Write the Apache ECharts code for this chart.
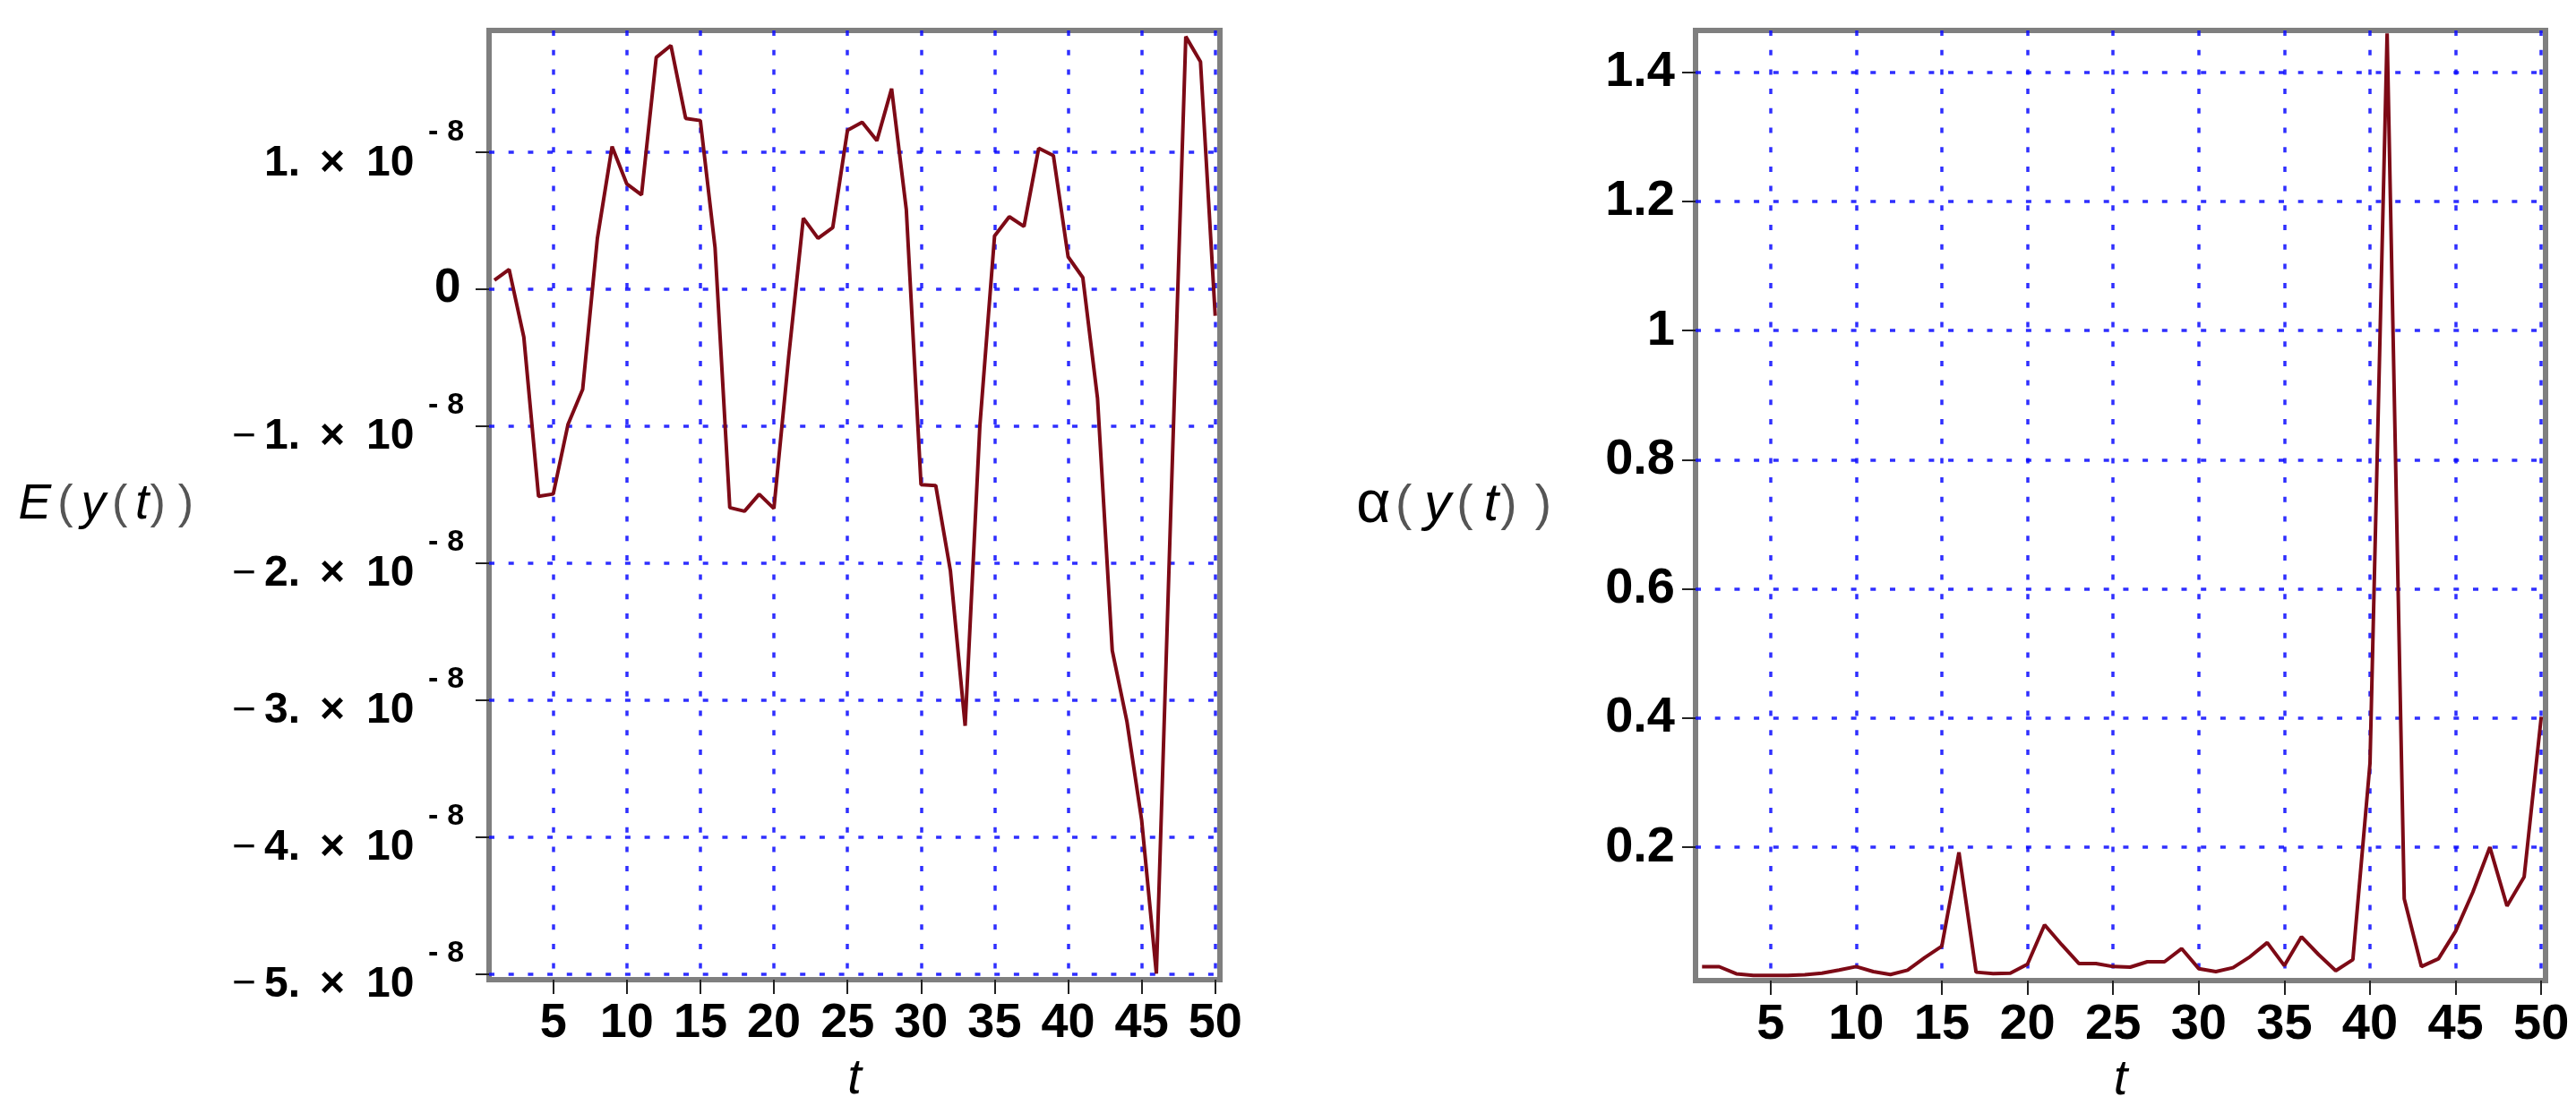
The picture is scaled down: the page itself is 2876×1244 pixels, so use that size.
<!DOCTYPE html>
<html>
<head>
<meta charset="utf-8">
<script src="https://cdn.jsdelivr.net/npm/echarts@6/dist/echarts.min.js"></script>
<style>
html,body{margin:0;padding:0;background:#fff;}
#chart{width:2876px;height:1244px;}
</style>
</head>
<body>
<div id="chart"></div>
<script>
// time steps
const tValues = [1,2,3,4,5,6,7,8,9,10,11,12,13,14,15,16,17,18,19,20,21,22,23,24,25,26,27,28,29,30,31,32,33,34,35,36,37,38,39,40,41,42,43,44,45,46,47,48,49,50];
// E(y(t)) in units of 1e-8
const eValues = [0.065,0.143,-0.352,-1.514,-1.497,-0.99,-0.733,0.37,1.04,0.767,0.687,1.691,1.778,1.246,1.23,0.30,-1.597,-1.623,-1.499,-1.603,-0.5,0.517,0.37,0.448,1.159,1.217,1.083,1.463,0.58,-1.429,-1.435,-2.06,-3.19,-1.0,0.387,0.528,0.457,1.028,0.974,0.235,0.083,-0.8,-2.64,-3.16,-3.88,-5.0,-1.55,1.843,1.659,-0.196];
// alpha(y(t))
const alphaValues = [0.015,0.015,0.004,0.0015,0.0015,0.0015,0.0025,0.005,0.0097,0.0152,0.0074,0.0028,0.0097,0.029,0.0467,0.192,0.0065,0.0042,0.005,0.0189,0.0799,0.049,0.0199,0.0199,0.0152,0.0143,0.0226,0.0226,0.043,0.012,0.0074,0.0134,0.0305,0.0522,0.0166,0.0614,0.0337,0.0088,0.0259,0.33,1.46,0.12,0.0152,0.0273,0.07,0.13,0.2,0.109,0.154,0.402];
// tick labels
const tTicks = [5,10,15,20,25,30,35,40,45,50];
const eTicks = [-5,-4,-3,-2,-1,0,1];
const eBase = '10';
const eExponent = ['-', '8'];
const alphaTicks = [0.2,0.4,0.6,0.8,1,1.2,1.4];

const FONT = "'Liberation Sans', Arial, Helvetica, sans-serif";
const LINE = '#7d0a16';
const GRIDC = 'rgba(10,10,255,0.85)';
const FRAME = '#7f7f7f';
const DASH = [6, 15.7];

const chart = echarts.init(document.getElementById('chart'), null, {renderer: 'canvas'});

function xAxisFor(gi, min, max, fs) {
  return {
    type: 'value', gridIndex: gi, min: min, max: max, position: 'bottom',
    minInterval: 5, maxInterval: 5,
    name: '{t|t}', nameLocation: 'middle', nameGap: 83,
    nameTextStyle: { rich: { t: { fontFamily: FONT, fontStyle: 'italic', fontSize: 56, color: '#000' } } },
    axisLine: { show: false, onZero: false },
    axisTick: { show: true, customValues: tTicks, length: 16, lineStyle: { color: '#222', width: 2 } },
    axisLabel: { customValues: tTicks, margin: 22, fontFamily: FONT, fontWeight: 'bold', fontSize: fs, color: '#000' },
    splitLine: { show: true, lineStyle: { color: GRIDC, width: 3.5, type: DASH } }
  };
}

function sp(fs) { return { fontFamily: FONT, fontSize: fs, lineHeight: 10 }; }
function gap(w) { return { fontFamily: FONT, fontSize: 10, lineHeight: 10, width: w }; }

const nameRichL = {
  E: { fontFamily: FONT, fontStyle: 'italic', fontSize: 55, color: '#000' },
  p: { fontFamily: FONT, fontSize: 52, color: '#555' },
  v: { fontFamily: FONT, fontStyle: 'italic', fontSize: 55, color: '#000' },
  a1: sp(25), a2: sp(32), a3: sp(25), a4: sp(32), a5: sp(4), a6: sp(50)
};
const nameRichR = {
  E: { fontFamily: FONT, fontSize: 66, color: '#000' },
  p: { fontFamily: FONT, fontSize: 55, color: '#555' },
  v: { fontFamily: FONT, fontStyle: 'italic', fontSize: 60, color: '#000' },
  a1: sp(20), a2: sp(50), a3: sp(22), a4: sp(43), a5: sp(8), a6: sp(72)
};
function nameText(first) {
  return '{E|' + first + '}{a1| }{p|(}{a2| }{v|y}{a3| }{p|(}{a4| }{v|t}{a5| }{p|)}{a6| }{p|)}';
}

const eMin = -5.044, eMax = 1.888;
function eLabelAxis(margin, align, formatter, rich) {
  return {
    type: 'value', gridIndex: 0, position: 'left', offset: 0,
    min: eMin, max: eMax, minInterval: 1, maxInterval: 1,
    axisLine: { show: false, onZero: false }, axisTick: { show: false }, splitLine: { show: false },
    axisLabel: { customValues: eTicks, margin: margin, align: align, formatter: formatter, rich: rich }
  };
}

const option = {
  backgroundColor: '#fff',
  animation: false,
  grid: [
    { left: 546, top: 34, width: 816, height: 1060, show: true, borderColor: FRAME, borderWidth: 6, backgroundColor: 'transparent', containLabel: false, outerBoundsMode: 'none' },
    { left: 1893, top: 34, width: 949, height: 1061, show: true, borderColor: FRAME, borderWidth: 6, backgroundColor: 'transparent', containLabel: false, outerBoundsMode: 'none' }
  ],
  xAxis: [ xAxisFor(0, 0.635, 50.32, 54), xAxisFor(1, 0.62, 50.25, 56) ],
  yAxis: [
    {
      // main E axis: grid lines, ticks, name, mantissa labels
      type: 'value', gridIndex: 0, position: 'left', min: eMin, max: eMax,
      minInterval: 1, maxInterval: 1,
      name: nameText('E'), nameLocation: 'middle', nameRotate: 0, nameGap: 330, nameMoveOverlap: false,
      nameTextStyle: { rich: nameRichL },
      axisLine: { show: false, onZero: false },
      axisTick: { show: true, customValues: eTicks, length: 15, lineStyle: { color: '#222', width: 2 } },
      axisLabel: {
        customValues: eTicks, margin: 251, align: 'left',
        formatter: function (v) {
          const k = Math.round(v);
          if (k === 0) return '';
          return '{m|' + Math.abs(k) + '.}{g1| }{m|\u00d7}{g2| }{m|' + eBase + '}';
        },
        rich: {
          m: { fontFamily: FONT, fontWeight: 'bold', fontSize: 48, color: '#000', lineHeight: 50, padding: [25, 0, 0, 0] },
          g1: gap(22), g2: gap(24)
        }
      },
      splitLine: { show: true, lineStyle: { color: GRIDC, width: 3.5, type: DASH } }
    },
    {
      type: 'value', gridIndex: 1, position: 'left', min: -0.0065, max: 1.4646,
      minInterval: 0.2, maxInterval: 0.2,
      name: nameText('\u03b1'), nameLocation: 'middle', nameRotate: 0, nameGap: 161, nameMoveOverlap: false,
      nameTextStyle: { rich: nameRichR },
      axisLine: { show: false, onZero: false },
      axisTick: { show: true, customValues: alphaTicks, length: 15, lineStyle: { color: '#222', width: 2 } },
      axisLabel: {
        customValues: alphaTicks, margin: 23, fontFamily: FONT, fontWeight: 'bold', fontSize: 56, color: '#000',
        formatter: function (v) { return String(Math.round(v * 10) / 10); }
      },
      splitLine: { show: true, lineStyle: { color: GRIDC, width: 3.5, type: DASH } }
    },
    // minus signs of the E labels
    eLabelAxis(260, 'right', function (v) { return Math.round(v) < 0 ? '{n|\u2212}' : ''; }, {
      n: { fontFamily: FONT, fontWeight: 'normal', fontSize: 46, color: '#000', lineHeight: 50, padding: [25, 0, 0, 0] }
    }),
    // exponents of the E labels, and the zero label
    eLabelAxis(68, 'left', function (v) {
      const k = Math.round(v);
      if (k === 0) return '{gz| }{z|0}';
      return '{s|' + eExponent[0] + '}{g4| }{s|' + eExponent[1] + '}';
    }, {
      s: { fontFamily: FONT, fontWeight: 'bold', fontSize: 34, color: '#000', lineHeight: 34, padding: [0, 0, 45, 0] },
      z: { fontFamily: FONT, fontWeight: 'bold', fontSize: 53, color: '#000', lineHeight: 56 },
      g4: gap(10), gz: gap(7)
    })
  ],
  series: [
    {
      type: 'line', xAxisIndex: 0, yAxisIndex: 0, showSymbol: false, symbol: 'none',
      lineStyle: { color: LINE, width: 4 },
      data: tValues.map((t, i) => [t, eValues[i]])
    },
    {
      type: 'line', xAxisIndex: 1, yAxisIndex: 1, showSymbol: false, symbol: 'none',
      lineStyle: { color: LINE, width: 4 },
      data: tValues.map((t, i) => [t, alphaValues[i]])
    }
  ]
};
chart.setOption(option);
</script>
</body>
</html>
